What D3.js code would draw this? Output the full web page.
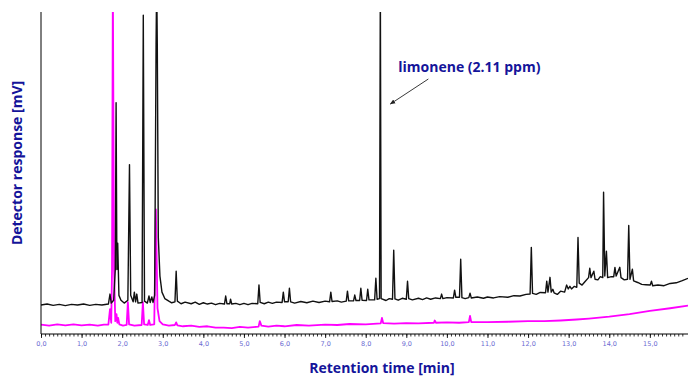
<!DOCTYPE html>
<html>
<head>
<meta charset="utf-8">
<script src="https://cdn.jsdelivr.net/npm/d3@7/dist/d3.min.js"></script>
<style>
  html, body { margin: 0; padding: 0; background: #fff; }
  #canvas { width: 688px; height: 377px; }
</style>
</head>
<body>
<div id="canvas"></div>
<script>
// retention time [min], detector response (relative units, 100 = top of plot)
const sampleTrace = [
  [0.0, 9.0], [0.15, 9.3], [0.3, 8.9], [0.45, 9.2], [0.6, 8.8], [0.75, 9.2], [0.9, 9.0], [1.05, 9.3],
  [1.2, 8.9], [1.35, 9.2], [1.5, 9.0], [1.66, 9.3], [1.70, 12.4], [1.73, 9.6],
  [1.79, 10.5], [1.83, 20], [1.85, 71.8], [1.87, 20], [1.89, 28.2], [1.92, 12], [1.97, 10.5], [2.05, 9.6],
  [2.14, 10.5], [2.18, 52.6], [2.21, 12], [2.27, 10], [2.30, 13.0], [2.33, 10], [2.36, 12.4], [2.39, 9.6],
  [2.49, 9.8], [2.52, 99], [2.55, 10.2], [2.62, 9.6], [2.66, 11.8], [2.69, 9.8], [2.73, 11.5], [2.76, 9.8],
  [2.80, 12], [2.835, 90], [2.85, 110], [2.865, 90], [2.89, 30], [2.93, 18], [2.98, 13], [3.05, 11],
  [3.15, 10.2], [3.22, 9.7], [3.30, 10], [3.33, 19.5], [3.36, 10.2], [3.45, 9.4], [3.55, 9.9], [3.7, 9.4],
  [3.8, 9.9], [3.9, 9.2], [4.0, 9.7], [4.1, 9.3], [4.2, 9.6], [4.3, 9.1], [4.4, 9.5], [4.52, 9.3],
  [4.55, 11.8], [4.58, 9.4], [4.65, 9.4], [4.67, 10.8], [4.70, 9.3], [4.8, 9.5], [4.9, 9.1], [5.0, 9.5],
  [5.1, 9.1], [5.2, 9.5], [5.34, 9.4], [5.37, 15.2], [5.40, 9.8], [5.5, 9.4], [5.6, 9.9], [5.7, 9.5],
  [5.8, 9.9], [5.94, 9.8], [5.97, 13.0], [6.00, 10], [6.09, 10], [6.12, 14.2], [6.15, 10], [6.25, 9.6],
  [6.4, 10.1], [6.55, 9.7], [6.7, 10.2], [6.85, 9.8], [7.0, 10.2], [7.11, 10], [7.14, 13.0], [7.17, 10.1],
  [7.3, 10.3], [7.4, 9.9], [7.52, 10.2], [7.55, 13.3], [7.58, 10.3], [7.70, 10.3], [7.73, 12.1],
  [7.76, 10.4], [7.85, 10.4], [7.88, 14.2], [7.91, 10.5], [8.02, 10.4], [8.05, 13.9], [8.08, 10.6],
  [8.22, 10.6], [8.25, 17.3], [8.28, 10.8], [8.34, 11], [8.36, 110], [8.38, 11], [8.5, 10.4], [8.58, 11],
  [8.66, 10.8], [8.69, 26.0], [8.72, 10.9], [8.8, 10.5], [8.9, 11.1], [9.00, 10.8], [9.03, 16.4],
  [9.06, 11], [9.15, 10.6], [9.3, 11.1], [9.4, 10.7], [9.5, 11.2], [9.6, 10.8], [9.72, 11.2], [9.84, 11],
  [9.87, 12.4], [9.90, 11], [10.0, 11.3], [10.16, 11.2], [10.19, 13.6], [10.22, 11.4], [10.31, 11.4],
  [10.34, 23.2], [10.37, 11.3], [10.45, 11.0], [10.54, 11.3], [10.57, 12.7], [10.60, 11.2], [10.75, 11.5],
  [10.9, 11.1], [11.0, 11.5], [11.15, 11.2], [11.3, 11.6], [11.5, 11.4], [11.65, 11.9], [11.8, 11.8],
  [11.95, 12.3], [12.05, 12.4], [12.08, 26.9], [12.11, 12.6], [12.2, 12.3], [12.3, 12.9], [12.43, 12.8],
  [12.46, 16.4], [12.49, 13], [12.54, 17.6], [12.57, 13], [12.61, 13.9], [12.64, 12.8], [12.72, 12.3],
  [12.8, 13.3], [12.9, 13.0], [12.95, 15.2], [12.99, 14], [13.03, 14.8], [13.07, 14], [13.14, 14.8],
  [13.20, 14.5], [13.23, 30], [13.26, 15.8], [13.33, 15.2], [13.4, 16.2], [13.49, 17.5], [13.52, 20.4],
  [13.55, 17.5], [13.62, 19.5], [13.65, 17], [13.72, 16.8], [13.78, 17.8], [13.84, 17.5], [13.86, 44],
  [13.89, 18], [13.93, 25.7], [13.96, 17.5], [14.05, 17.8], [14.11, 17.8], [14.14, 20.7], [14.17, 18],
  [14.26, 20.7], [14.29, 17.5], [14.37, 16.8], [14.45, 17], [14.48, 33.7], [14.51, 17], [14.57, 20.1],
  [14.60, 16.5], [14.7, 16.0], [14.8, 15.4], [14.9, 15.3], [15.01, 15.2], [15.04, 16.4], [15.07, 15.0],
  [15.2, 15.2], [15.35, 15.0], [15.5, 15.7], [15.65, 15.9], [15.8, 16.6], [15.94, 17.3]
];

const blankTrace = [
  [0.0, 2.9], [0.2, 2.6], [0.4, 3.0], [0.6, 2.7], [0.8, 3.0], [1.0, 2.7], [1.2, 2.9], [1.4, 2.6],
  [1.55, 2.9], [1.66, 2.9], [1.70, 7.7], [1.73, 3.5], [1.75, 20],
  [1.77, 110], [1.80, 20], [1.83, 4], [1.86, 6.2], [1.88, 3.5], [1.90, 5], [1.93, 3], [2.02, 2.6],
  [2.11, 2.8], [2.14, 9.9], [2.17, 3], [2.3, 2.6], [2.48, 2.8], [2.51, 9.9], [2.54, 3], [2.63, 2.8],
  [2.66, 4.3], [2.69, 2.8], [2.79, 3], [2.83, 38.7], [2.87, 8], [2.92, 4], [3.0, 3], [3.15, 2.6],
  [3.30, 2.8], [3.33, 3.6], [3.36, 2.7], [3.5, 2.4], [3.7, 2.6], [3.9, 2.2], [4.1, 2.4], [4.3, 2.0],
  [4.5, 2.0], [4.7, 1.8], [4.9, 2.2], [5.1, 2.0], [5.36, 2.3], [5.39, 4.0], [5.43, 2.6], [5.6, 2.3],
  [5.8, 2.6], [6.0, 2.4], [6.3, 2.8], [6.6, 2.6], [7.0, 2.9], [7.3, 2.8], [7.6, 3.1], [8.0, 3.0],
  [8.37, 3.3], [8.40, 5.0], [8.43, 3.4], [8.7, 3.2], [9.0, 3.4], [9.3, 3.3], [9.68, 3.5], [9.70, 4.2],
  [9.73, 3.5], [10.0, 3.6], [10.3, 3.5], [10.54, 3.7], [10.57, 5.6], [10.60, 3.7], [11.0, 3.7],
  [11.5, 3.8], [12.0, 4.0], [12.4, 4.0], [12.8, 4.2], [13.2, 4.5], [13.5, 4.8], [14.0, 5.4],
  [14.5, 6.2], [15.0, 7.2], [15.5, 8.0], [15.94, 8.8]
];

const xTicksMajor = d3.range(0, 16, 1);
const xTicksMinor = d3.range(0, 159, 1).map(d => d / 10);
const annotationText = "limonene (2.11 ppm)";
const limoneneTime = 8.36;

const labelColor = "#14149a";
const tickColor = "#6a6ad2";

const width = 688, height = 377;
const plot = { left: 41, right: 688, top: 12, bottom: 334 };

const svg = d3.select("#canvas").append("svg")
  .attr("width", width)
  .attr("height", height);

const xScale = d3.scaleLinear().domain([0, 15.94]).range([plot.left, plot.right]);
const yScale = d3.scaleLinear().domain([0, 100]).range([plot.bottom, plot.top]);

svg.append("clipPath").attr("id", "clip")
  .append("rect")
  .attr("x", plot.left).attr("y", plot.top)
  .attr("width", plot.right - plot.left).attr("height", plot.bottom - plot.top);

const line = d3.line().x(d => xScale(d[0])).y(d => yScale(d[1]));

const traces = svg.append("g").attr("clip-path", "url(#clip)");

traces.append("path")
  .attr("d", line(blankTrace))
  .attr("fill", "none")
  .attr("stroke", "#ff00ff")
  .attr("stroke-width", 1.8)
  .attr("stroke-linejoin", "round");

traces.append("path")
  .attr("d", line(sampleTrace))
  .attr("fill", "none")
  .attr("stroke", "#111")
  .attr("stroke-width", 1.4)
  .attr("stroke-linejoin", "round");

// x axis: minor ticks every 0.1 min, labels every minute
const fmt = d => d3.format(".1f")(d).replace(".", ",");
const xAxisG = svg.append("g").attr("transform", "translate(0," + plot.bottom + ")");
xAxisG.call(d3.axisBottom(xScale).tickValues(xTicksMinor).tickSize(2.5).tickFormat(""));
xAxisG.call(g => g.select(".domain").remove());
const xMajor = svg.append("g").attr("transform", "translate(0," + plot.bottom + ")")
  .call(d3.axisBottom(xScale).tickValues(xTicksMajor).tickSize(4).tickPadding(3).tickFormat(fmt));
xMajor.selectAll("text")
  .attr("fill", tickColor)
  .attr("font-family", "DejaVu Sans")
  .attr("font-size", "6.5px");
xMajor.select(".domain")
  .attr("d", "M" + plot.left + ",0H" + plot.right)
  .attr("stroke", "#000");
svg.selectAll(".tick line").attr("stroke", "#000").attr("stroke-width", 0.8);

// y axis: plain line only
svg.append("line")
  .attr("x1", plot.left).attr("x2", plot.left)
  .attr("y1", plot.top).attr("y2", plot.bottom)
  .attr("stroke", "#000").attr("stroke-width", 1);

// axis titles
svg.append("text")
  .attr("x", 382).attr("y", 373)
  .attr("text-anchor", "middle")
  .attr("font-family", "Open Sans").attr("font-weight", 700).attr("font-size", "14px")
  .attr("fill", labelColor)
  .text("Retention time [min]");

svg.append("text")
  .attr("transform", "translate(22,163) rotate(-90)")
  .attr("text-anchor", "middle")
  .attr("font-family", "Open Sans").attr("font-weight", 700).attr("font-size", "14px")
  .attr("fill", labelColor)
  .text("Detector response [mV]");

// annotation
svg.append("defs").append("marker")
  .attr("id", "arrow").attr("viewBox", "0 0 10 10")
  .attr("refX", 9).attr("refY", 5)
  .attr("markerWidth", 6).attr("markerHeight", 6)
  .attr("orient", "auto")
  .append("path").attr("d", "M0,1L10,5L0,9z").attr("fill", "#222");

const ax = xScale(limoneneTime);
svg.append("line")
  .attr("x1", ax + 48).attr("y1", 79)
  .attr("x2", ax + 10).attr("y2", 104)
  .attr("stroke", "#222").attr("stroke-width", 0.9)
  .attr("marker-end", "url(#arrow)");

svg.append("text")
  .attr("x", ax + 18).attr("y", 72)
  .attr("font-family", "Open Sans").attr("font-weight", 700).attr("font-size", "14px")
  .attr("fill", labelColor)
  .text(annotationText);
</script>
</body>
</html>
